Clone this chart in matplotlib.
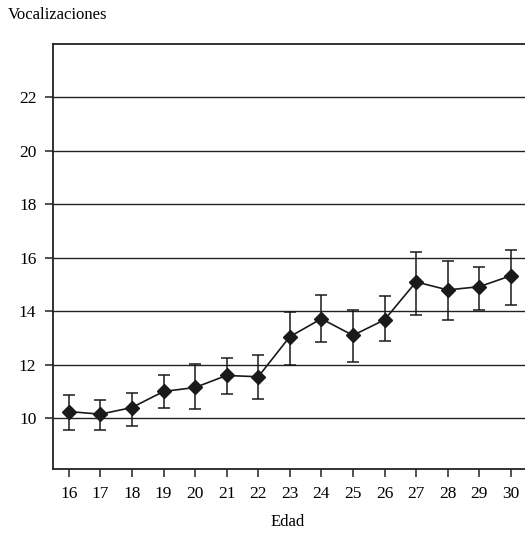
import numpy as np
import matplotlib
matplotlib.use("Agg")
import matplotlib.pyplot as plt

# values
edad = [16, 17, 18, 19, 20, 21, 22, 23, 24, 25, 26, 27, 28, 29, 30]
media = [10.25, 10.15, 10.4, 11.0, 11.15, 11.6, 11.55, 13.05, 13.72, 13.1, 13.68, 15.1, 14.8, 14.92, 15.33]
limite_sup = [10.87, 10.67, 10.93, 11.6, 12.02, 12.24, 12.35, 13.98, 14.6, 14.06, 14.57, 16.2, 15.88, 15.65, 16.28]
limite_inf = [9.55, 9.56, 9.7, 10.4, 10.34, 10.92, 10.72, 12.0, 12.84, 12.1, 12.88, 13.88, 13.68, 14.03, 14.22]
yticks = [10, 12, 14, 16, 18, 20, 22]

plt.rcParams["font.family"] = ["Liberation Serif", "DejaVu Serif"]

media = np.array(media)
err = [media - np.array(limite_inf), np.array(limite_sup) - media]

fig = plt.figure(figsize=(5.25, 5.35), dpi=100)
ax = fig.add_axes([53 / 525, 66 / 535, 1 - 53 / 525, (469 - 44) / 535])

for y in yticks:
    ax.axhline(y, color="#222222", lw=1.0, zorder=1)

ax.errorbar(edad, media, yerr=err, color="#1a1a1a", lw=1.2,
            elinewidth=1.1, capsize=4, capthick=1.1,
            marker="D", markersize=7, zorder=3)

ax.set_xlim(15.5, 30.45)
ax.set_ylim(8.1, 24.0)
ax.set_xticks(edad)
ax.set_yticks(yticks)
ax.tick_params(direction="out", length=6, width=1.1, labelsize=12.5,
               color="#222222", pad=6)

ax.spines["right"].set_visible(False)
for side in ["left", "bottom", "top"]:
    ax.spines[side].set_linewidth(1.3)
    ax.spines[side].set_color("#222222")

fig.text(8 / 525, 1 - 15 / 535, "Vocalizaciones", fontsize=12,
         ha="left", va="center")
fig.text(288 / 525, 1 - 522 / 535, "Edad", fontsize=12,
         ha="center", va="center")

fig.savefig("out.png", dpi=100)
